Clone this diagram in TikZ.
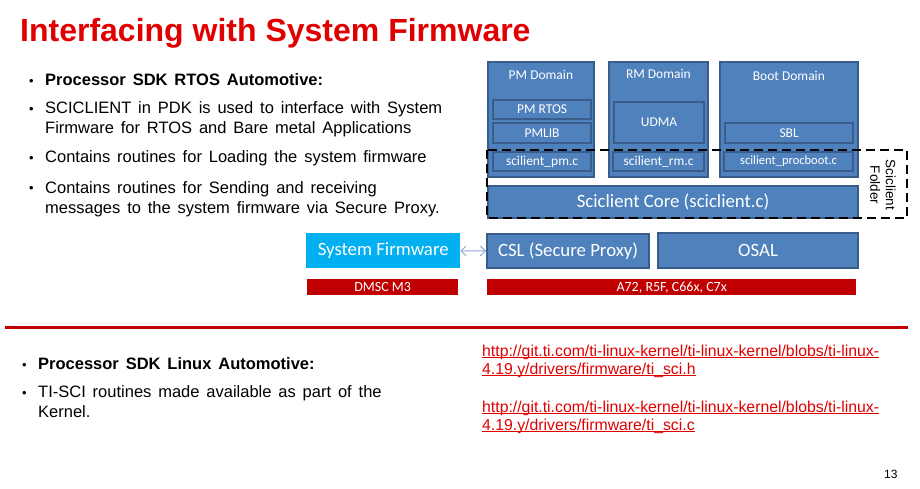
\documentclass[tikz,border=0pt]{standalone}
\usepackage{fontspec}
\setmainfont[WordSpace=1.5]{Liberation Sans}
\newfontfamily\urlfont{Liberation Sans}
\newfontfamily\calibri{Carlito}
\usetikzlibrary{arrows.meta,positioning}

\definecolor{titlered}{RGB}{224,0,0}
\definecolor{barred}{RGB}{192,0,0}
\definecolor{blkfill}{RGB}{79,129,189}
\definecolor{blkline}{RGB}{56,93,138}
\definecolor{fwcyan}{RGB}{0,176,240}
\definecolor{arrowblue}{RGB}{140,168,214}

% underlined link text
\newsavebox{\linkbox}
\newcommand{\linkline}[1]{\sbox{\linkbox}{#1}\rlap{\rule[-2.2pt]{\wd\linkbox}{1pt}}\usebox{\linkbox}}

\begin{document}
\begin{tikzpicture}[x=1pt, y=-1pt,
    dombox/.style={draw=blkline, line width=1.8pt, fill=blkfill, anchor=north west, inner sep=0pt},
    sub/.style={draw=blkline, line width=2.2pt, fill=blkfill, anchor=north west, inner sep=0pt,
        text=white, font=\calibri\fontsize{13.5}{15}\selectfont},
    domtitle/.style={text=white, font=\calibri\fontsize{13.5}{15}\selectfont, inner sep=0pt},
    big/.style={sub, font=\calibri\fontsize{18.8}{22}\selectfont},
    bar/.style={fill=barred, anchor=north west, inner sep=0pt, text=white,
        font=\calibri\fontsize{14}{15}\selectfont},
    dot/.style={anchor=base west, inner sep=0pt, font=\fontsize{13}{20}\selectfont},
    item/.style={anchor=base west, inner sep=0pt, align=left, font=\fontsize{16.5}{20}\selectfont},
    link/.style={anchor=base west, inner sep=0pt, align=left, text=titlered,
        font=\urlfont\fontsize{15.8}{18}\selectfont}
]
\useasboundingbox (0,0) rectangle (920,489);

% Title
\node[anchor=base west, inner sep=0pt, text=titlered, font=\urlfont\bfseries\fontsize{32}{36}\selectfont]
    (title) at (20,42) {Interfacing with System Firmware};

% RTOS bullets (multi-line items sit on their last baseline)
\node[dot] (d1) at (29,86) {•};
\node[item] (i1) at (45,86) {\bfseries Processor SDK RTOS Automotive:};
\node[dot] (d2) at (29,114) {•};
\node[item] (i2) at (45,134) {SCICLIENT in PDK is used to interface with System\\Firmware for RTOS and Bare metal Applications};
\node[dot] (d3) at (29,163) {•};
\node[item] (i3) at (45,163) {Contains routines for Loading the system firmware};
\node[dot] (d4) at (29,193) {•};
\node[item] (i4) at (45,213) {Contains routines for Sending and receiving\\messages to the system firmware via Secure Proxy.};

% Domains
\node[dombox, minimum width=106, minimum height=115] (pmdom) at (487,61) {};
\node[dombox, minimum width=99, minimum height=115] (rmdom) at (608,61) {};
\node[dombox, minimum width=138, minimum height=115] (bootdom) at (719,61) {};
\node[domtitle, below=9pt of pmdom.north] (pmtitle) {PM Domain};
\node[domtitle, below=8pt of rmdom.north] (rmtitle) {RM Domain};
\node[domtitle, below=10pt of bootdom.north] (boottitle) {Boot Domain};

\node[sub, minimum width=98, minimum height=19] (pmrtos) at (492,99) {PM RTOS};
\node[sub, minimum width=98, minimum height=20] (pmlib) at (492,122) {PMLIB};
\node[sub, minimum width=90, minimum height=41] (udma) at (613,101) {UDMA};
\node[sub, minimum width=128, minimum height=20] (sbl) at (724,122) {SBL};
\node[sub, minimum width=98, minimum height=19] (scipm) at (492,151) {scilient\_pm.c};
\node[sub, minimum width=91, minimum height=19] (scirm) at (612,151) {scilient\_rm.c};
\node[sub, minimum width=129, minimum height=19, font=\calibri\fontsize{12.5}{14}\selectfont]
    (sciboot) at (723,151) {scilient\_procboot.c};

% Core and folder outline
\node[big, minimum width=370, minimum height=32] (core) at (487,185) {Sciclient Core (sciclient.c)};
\draw[line width=2.6pt, dash pattern=on 9pt off 5pt] (487,150) rectangle (907,218);
\node[rotate=-90, align=center, inner sep=0pt, font=\urlfont\fontsize{13.5}{15.5}\selectfont]
    (folder) at (883,185) {Sciclient\\Folder};

% Lower layer
\node[anchor=north west, inner sep=0pt, fill=fwcyan, text=white, minimum width=154, minimum height=35,
    font=\calibri\fontsize{18.8}{22}\selectfont] (sysfw) at (306,233) {System Firmware};
\node[big, minimum width=162, minimum height=34] (csl) at (486,233) {CSL (Secure Proxy)};
\node[big, minimum width=200, minimum height=35] (osal) at (657,232) {OSAL};
\draw[{Straight Barb[length=5pt, width=10pt]}-{Straight Barb[length=5pt, width=10pt]}, arrowblue, line width=1pt]
    (sysfw) -- (csl);

\node[bar, minimum width=151, minimum height=16] (dmsc) at (307,279) {DMSC M3};
\node[bar, minimum width=369, minimum height=16] (cores) at (487,279) {A72, R5F, C66x, C7x};

% Divider
\draw[barred, line width=3pt] (5,327) -- (908,327);

% Linux bullets
\node[dot] (d5) at (22,369) {•};
\node[item] (i5) at (38,369) {\bfseries Processor SDK Linux Automotive:};
\node[dot] (d6) at (22,397) {•};
\node[item] (i6) at (38,417) {TI-SCI routines made available as part of the\\Kernel.};

% Links
\node[link] (url1) at (482,374) {\linkline{http://git.ti.com/ti-linux-kernel/ti-linux-kernel/blobs/ti-linux-}\\\linkline{4.19.y/drivers/firmware/ti\_sci.h}};
\node[link] (url2) at (482,430) {\linkline{http://git.ti.com/ti-linux-kernel/ti-linux-kernel/blobs/ti-linux-}\\\linkline{4.19.y/drivers/firmware/ti\_sci.c}};

% Page number
\node[anchor=base west, inner sep=0pt, font=\urlfont\fontsize{12}{14}\selectfont] (page) at (884,478) {13};

\end{tikzpicture}
\end{document}
